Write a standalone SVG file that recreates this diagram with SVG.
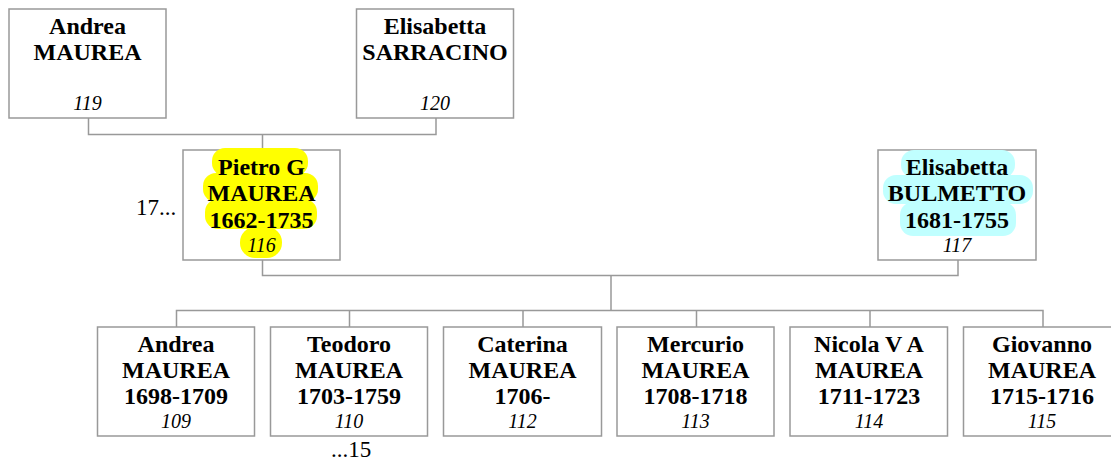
<svg xmlns="http://www.w3.org/2000/svg" width="1111" height="462" viewBox="0 0 1111 462">
<style>
.box{fill:#fff;stroke:#999;stroke-width:1.5}
.con{fill:none;stroke:#999;stroke-width:1.5}
.n{font-family:"Liberation Serif","Times New Roman",serif;font-weight:bold;font-size:24px;text-anchor:middle;fill:#000}
.id{font-family:"Liberation Serif","Times New Roman",serif;font-style:italic;font-size:20px;text-anchor:middle;fill:#000}
.x{font-family:"Liberation Serif","Times New Roman",serif;font-size:23px;fill:#000}
.hy{fill:#ffff00}
.hc{fill:#c0ffff}
</style>
<rect width="1111" height="462" fill="#fff"/>
<g id="connectors">
<path class="con" d="M88.5 118V134.5H436V118M262.5 134.5V150"/>
<path class="con" d="M262.5 260V275.5H958V260M611 275.5V310.5"/>
<path class="con" d="M176.5 327V310.5H1043V327M349.5 310.5V327M523 310.5V327M696.5 310.5V327M870 310.5V327"/>
</g>
<g id="n119">
<rect class="box" x="9" y="9" width="157" height="109"/>
<text class="n" x="87.5" y="33.5">Andrea</text>
<text class="n" x="87.5" y="60">MAUREA</text>
<text class="id" x="87.5" y="110">119</text>
</g>
<g id="n120">
<rect class="box" x="356.5" y="9" width="157" height="109"/>
<text class="n" x="435" y="33.5">Elisabetta</text>
<text class="n" x="435" y="60">SARRACINO</text>
<text class="id" x="435" y="110">120</text>
</g>
<g id="n116">
<rect class="box" x="183" y="150" width="157" height="110"/>
<rect class="hy" x="212" y="148" width="96" height="28" rx="13"/>
<rect class="hy" x="203" y="173" width="115" height="29" rx="13"/>
<rect class="hy" x="205" y="199" width="112" height="30" rx="13"/>
<rect class="hy" x="240" y="227" width="42" height="31" rx="15"/>
<text class="n" x="261.5" y="174.5">Pietro G</text>
<text class="n" x="261.5" y="201">MAUREA</text>
<text class="n" x="261.5" y="227.5">1662-1735</text>
<text class="id" x="261.5" y="252">116</text>
<text class="x" x="136" y="215">17...</text>
</g>
<g id="n117">
<rect class="box" x="878" y="150" width="158" height="110"/>
<rect class="hc" x="901" y="150" width="114" height="28" rx="13"/>
<rect class="hc" x="883" y="175" width="150" height="29" rx="13"/>
<rect class="hc" x="900" y="202" width="116" height="34" rx="13"/>
<text class="n" x="957" y="175">Elisabetta</text>
<text class="n" x="957" y="201">BULMETTO</text>
<text class="n" x="957" y="227.5">1681-1755</text>
<text class="id" x="957" y="252">117</text>
</g>
<g id="n109">
<rect class="box" x="97.5" y="327" width="157" height="109"/>
<text class="n" x="176" y="352">Andrea</text>
<text class="n" x="176" y="377.5">MAUREA</text>
<text class="n" x="176" y="403.5">1698-1709</text>
<text class="id" x="176" y="428">109</text>
</g>
<g id="n110">
<rect class="box" x="270.5" y="327" width="157" height="109"/>
<text class="n" x="349" y="352">Teodoro</text>
<text class="n" x="349" y="377.5">MAUREA</text>
<text class="n" x="349" y="403.5">1703-1759</text>
<text class="id" x="349" y="428">110</text>
<text class="x" x="351" y="457" text-anchor="middle">...15</text>
</g>
<g id="n112">
<rect class="box" x="443.5" y="327" width="158" height="109"/>
<text class="n" x="522.5" y="352">Caterina</text>
<text class="n" x="522.5" y="377.5">MAUREA</text>
<text class="n" x="522.5" y="403.5">1706-</text>
<text class="id" x="522.5" y="428">112</text>
</g>
<g id="n113">
<rect class="box" x="617" y="327" width="157" height="109"/>
<text class="n" x="695.5" y="352">Mercurio</text>
<text class="n" x="695.5" y="377.5">MAUREA</text>
<text class="n" x="695.5" y="403.5">1708-1718</text>
<text class="id" x="695.5" y="428">113</text>
</g>
<g id="n114">
<rect class="box" x="790" y="327" width="157.5" height="109"/>
<text class="n" x="869" y="352">Nicola V A</text>
<text class="n" x="869" y="377.5">MAUREA</text>
<text class="n" x="869" y="403.5">1711-1723</text>
<text class="id" x="869" y="428">114</text>
</g>
<g id="n115">
<rect class="box" x="963.5" y="327" width="157" height="109"/>
<text class="n" x="1042" y="352">Giovanno</text>
<text class="n" x="1042" y="377.5">MAUREA</text>
<text class="n" x="1042" y="403.5">1715-1716</text>
<text class="id" x="1042" y="428">115</text>
</g>
</svg>
